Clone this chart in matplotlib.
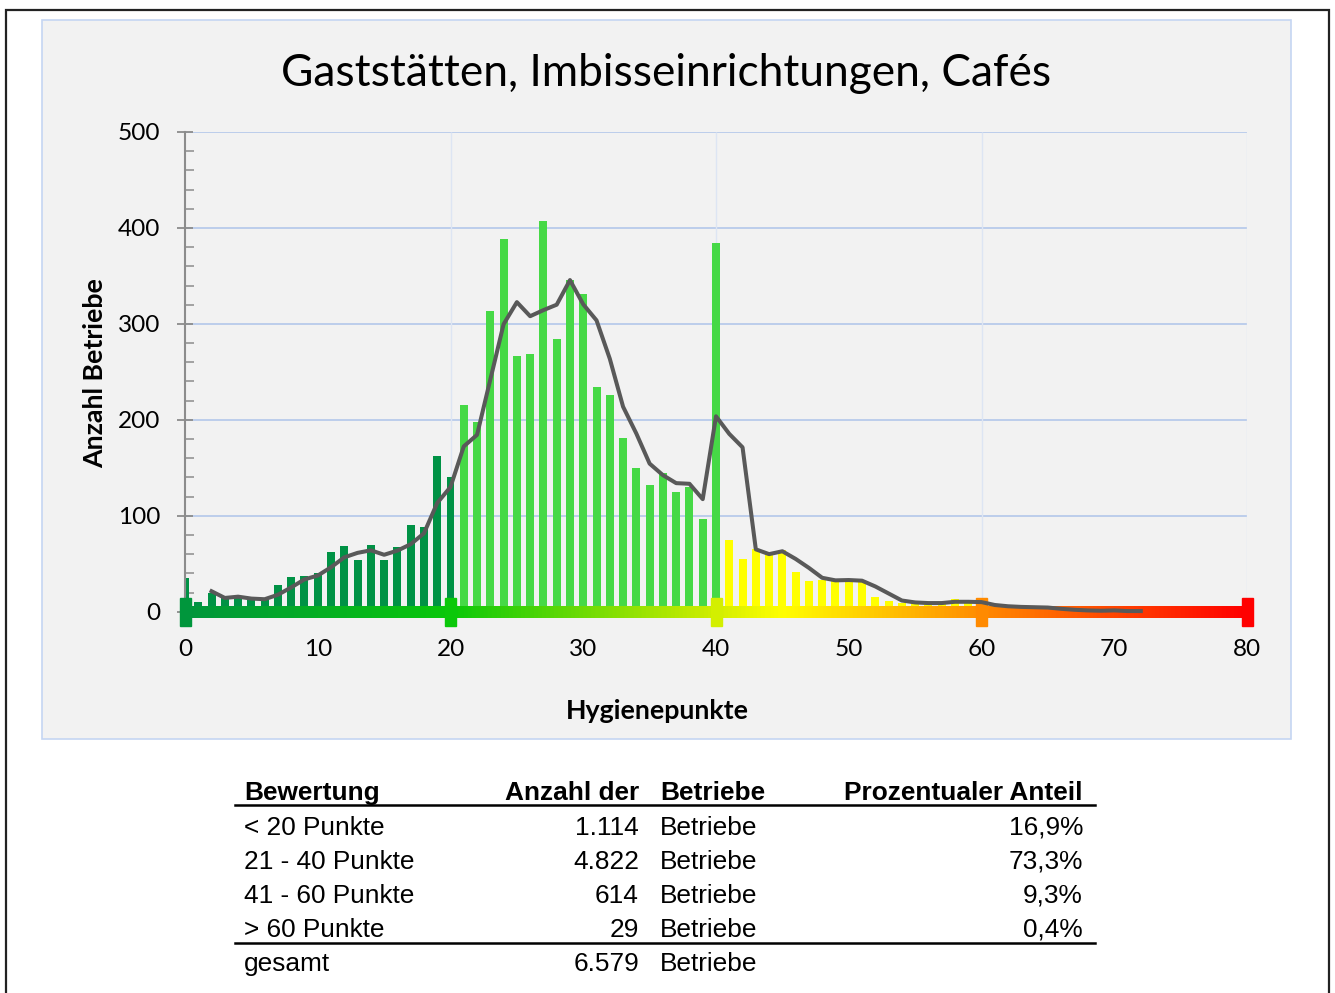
import matplotlib
matplotlib.use("Agg")
import matplotlib.pyplot as plt
import numpy as np
import pandas as pd
from matplotlib.colors import LinearSegmentedColormap
from matplotlib.lines import Line2D
from matplotlib.patches import Rectangle
from matplotlib.ticker import MultipleLocator

W, H = 1335, 993

# Daten: Anzahl Betriebe je Hygienepunkt (0..72)
punkte = list(range(0, 73))
anzahl = [35, 10, 19, 14, 14, 13, 12, 28, 36, 37, 40, 62, 68, 54, 70, 54, 67, 90, 88, 162, 140,
          215, 198, 313, 388, 267, 269, 407, 284, 346, 331, 234, 226, 181, 150, 132, 145, 125, 130, 97, 384,
          75, 55, 65, 60, 64, 41, 32, 33, 33, 33, 31, 15, 11, 9, 9, 9, 9, 13, 9, 8,
          4, 5, 6, 3, 4, 2, 0, 2, 1, 1, 0, 1]

x_ticks = [0, 10, 20, 30, 40, 50, 60, 70, 80]
y_ticks = [0, 100, 200, 300, 400, 500]
marker_pos = [0, 20, 40, 60, 80]

titel = "Gaststätten, Imbisseinrichtungen, Cafés"

# Tabelle
kopf = ["Bewertung", "Anzahl der", "Betriebe", "Prozentualer Anteil"]
bewertung = ["< 20 Punkte", "21 - 40 Punkte", "41 - 60 Punkte", "> 60 Punkte"]
betriebe = ["1.114", "4.822", "614", "29"]
anteil = ["16,9%", "73,3%", "9,3%", "0,4%"]
gesamt = "6.579"

plt.rcParams["font.family"] = ["Lato", "DejaVu Sans"]


def fx(x):
    return x / W


def fy(y):
    return 1 - y / H


def bar_farbe(p):
    if p <= 20:
        return "#009245"
    if p <= 40:
        return "#46D946"
    if p <= 60:
        return "#FFFF00"
    return "#FF8C00"


cmap = LinearSegmentedColormap.from_list(
    "ampel",
    [(0.0, "#00963C"), (0.25, "#0AC80A"), (0.5, "#D2EE00"), (0.5625, "#FFFF00"),
     (0.75, "#FF8C00"), (1.0, "#FF0000")])

fig = plt.figure(figsize=(W / 100, H / 100), dpi=100)
fig.patch.set_facecolor("white")

# aeusserer Rahmen und Diagrammflaeche
fig.add_artist(Rectangle((fx(5.5), fy(1005)), fx(1329) - fx(5.5), fy(9.5) - fy(1005),
                         transform=fig.transFigure, fill=False, ec="#222222", lw=1.6, zorder=-2))
fig.add_artist(Rectangle((fx(42), fy(739)), fx(1291) - fx(42), fy(20) - fy(739),
                         transform=fig.transFigure, fc="#F2F2F2", ec="#C5D6F2", lw=1.2, zorder=-1))

ax = fig.add_axes([fx(185), fy(611.7), fx(1247) - fx(185), fy(132) - fy(611.7)])
ax.set_facecolor("none")

ax.bar(punkte, anzahl, width=0.6, color=[bar_farbe(p) for p in punkte], zorder=2)

# Farbverlauf-Leiste
ax.imshow(np.linspace(0, 1, 800)[None, :], cmap=cmap, aspect="auto",
          extent=(0, 80, -6.4, 5.9), zorder=3, clip_on=False)
for p in marker_pos:
    ax.add_patch(Rectangle((p - 0.41, -14.5), 0.83, 28.5, color=cmap(p / 80),
                           clip_on=False, zorder=4))

# gleitender Durchschnitt (3 Perioden)
gd = pd.Series(anzahl).rolling(3).mean()
ax.plot(punkte, gd, color="#595959", lw=2.9, zorder=5, clip_on=False)

ax.set_xlim(0, 80)
ax.set_ylim(0, 500)
ax.set_xticks(x_ticks)
ax.set_yticks(y_ticks)
ax.yaxis.set_minor_locator(MultipleLocator(20))
ax.yaxis.grid(True, color="#BCCDEB", lw=1.4, zorder=1)
ax.set_axisbelow(True)
ax.vlines([20, 40, 60, 80], 0, 500, color="#DDE5F3", lw=1, zorder=1)

for s in ["top", "right", "bottom"]:
    ax.spines[s].set_visible(False)
ax.spines["left"].set_color("#8C8C8C")
ax.spines["left"].set_linewidth(1.5)

ax.tick_params(axis="y", which="major", direction="inout", length=11.5, width=1.3,
               color="#8C8C8C", pad=12.0, labelsize=17.6)
ax.tick_params(axis="y", which="minor", direction="in", length=6.5, width=1.1, color="#8C8C8C")
ax.tick_params(axis="x", length=0, pad=19.5, labelsize=17.6)

fig.text(fx(666), fy(73), titel, ha="center", va="center", fontsize=31.9)
fig.text(fx(95), fy(373), "Anzahl Betriebe", rotation=90, ha="center", va="center",
         fontsize=19.3, fontweight="bold")
fig.text(fx(657), fy(711), "Hygienepunkte", ha="center", va="center",
         fontsize=19.3, fontweight="bold")

# Tabelle unter dem Diagramm
tf = ["Liberation Sans", "DejaVu Sans"]
fs = 18.9
spalten = [(244, "left"), (639, "right"), (660, "left"), (1083, "right")]
for (xp, ha), txt in zip(spalten, kopf):
    fig.text(fx(xp), fy(800), txt, ha=ha, va="baseline", fontsize=fs,
             fontweight="bold", family=tf)
for i in range(len(bewertung)):
    yb = 835 + i * 34
    zeile = [bewertung[i], betriebe[i], "Betriebe", anteil[i]]
    for (xp, ha), txt in zip(spalten, zeile):
        fig.text(fx(xp), fy(yb), txt, ha=ha, va="baseline", fontsize=fs, family=tf)
for (xp, ha), txt in zip(spalten[:3], ["gesamt", gesamt, "Betriebe"]):
    fig.text(fx(xp), fy(971), txt, ha=ha, va="baseline", fontsize=fs, family=tf)

for yl in [804.5, 943]:
    fig.add_artist(Line2D([fx(235), fx(1095)], [fy(yl), fy(yl)], color="black", lw=1.8,
                          transform=fig.transFigure))

fig.savefig("out.png", dpi=100)
